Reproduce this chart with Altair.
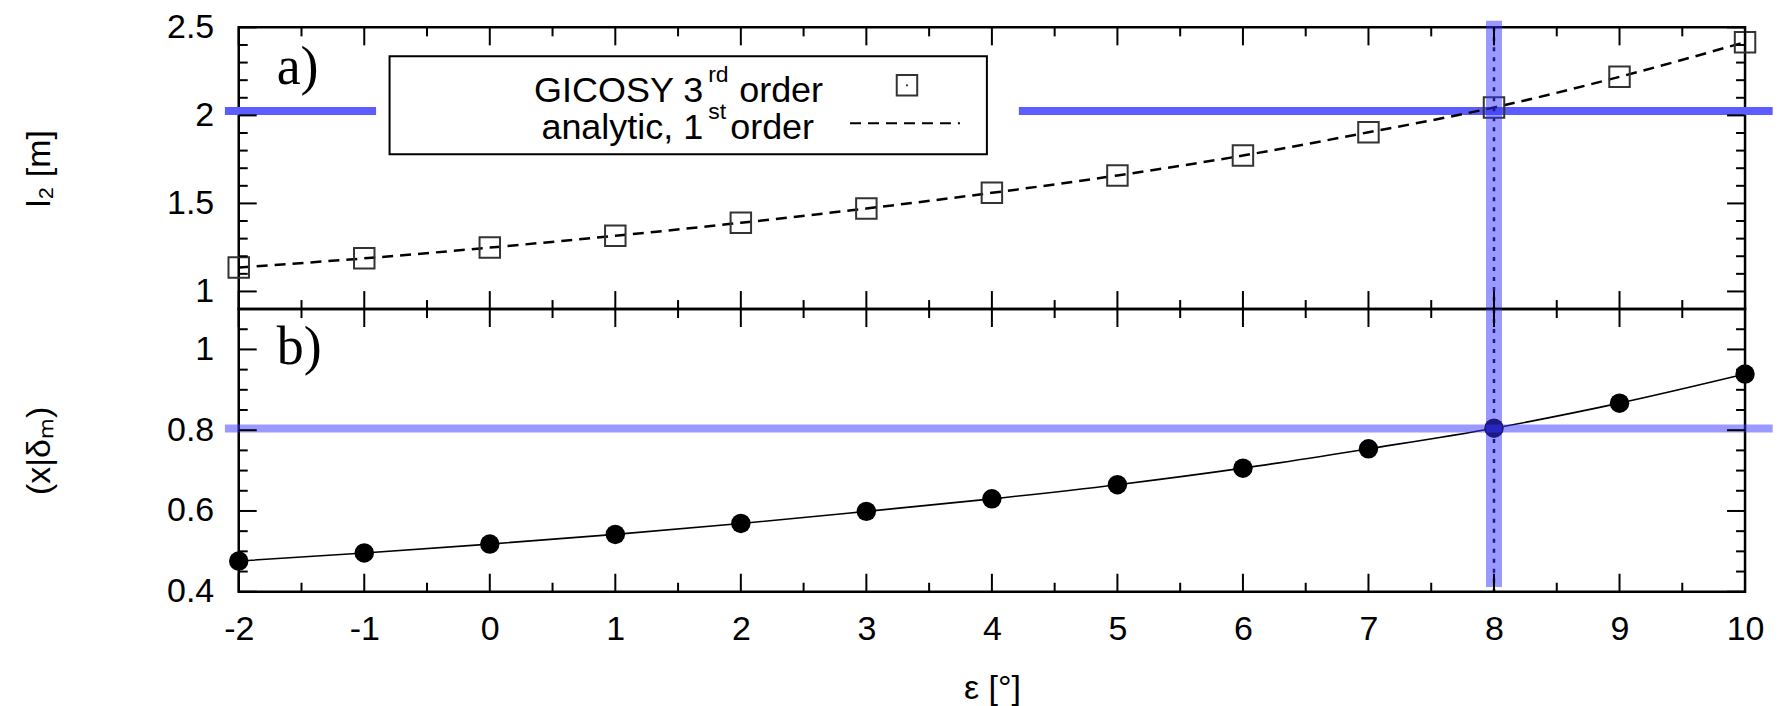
import altair as alt
import pandas as pd

# ---------------- data ----------------
eps = [-2, -1, 0, 1, 2, 3, 4, 5, 6, 7, 8, 9, 10]
l2_gicosy = [1.136, 1.188, 1.249, 1.316, 1.390, 1.471, 1.560, 1.659, 1.772, 1.904, 2.045, 2.219, 2.416]
l2_analytic = [1.136, 1.188, 1.249, 1.316, 1.390, 1.471, 1.560, 1.659, 1.772, 1.904, 2.045, 2.219, 2.416]
xdm_gicosy = [0.476, 0.496, 0.518, 0.542, 0.569, 0.599, 0.630, 0.665, 0.706, 0.754, 0.805, 0.867, 0.939]
xdm_analytic = [0.476, 0.496, 0.518, 0.542, 0.569, 0.599, 0.630, 0.665, 0.706, 0.754, 0.805, 0.867, 0.939]

x_major = [-2, -1, 0, 1, 2, 3, 4, 5, 6, 7, 8, 9, 10]
x_minor = [-1.5, -0.5, 0.5, 1.5, 2.5, 3.5, 4.5, 5.5, 6.5, 7.5, 8.5, 9.5]
top_y_major = [1, 1.5, 2, 2.5]
top_y_minor = [1.1, 1.2, 1.3, 1.4, 1.6, 1.7, 1.8, 1.9, 2.1, 2.2, 2.3, 2.4]
bot_y_major = [0.4, 0.6, 0.8, 1.0]
bot_y_minor = [0.45, 0.5, 0.55, 0.65, 0.7, 0.75, 0.85, 0.9, 0.95, 1.05]

eps_mark = 8
l2_mark = 2.025
xdm_mark = 0.804
top_band_x0 = [-2.11, 4.215]
top_band_x1 = [-0.906, 10.22]
bot_band_x0 = [-2.11]
bot_band_x1 = [10.22]
vband_top_y = [2.537, 0.9]
vband_bot_y = [1.1, 0.412]

X_DOM = [-2, 10]
TOP_DOM = [0.9, 2.5]
BOT_DOM = [0.4, 1.1]

# ---------------- layout / style ----------------
W = 1508
HT = 282
HB = 283
FONT = "Liberation Sans"
SERIF = "Liberation Serif"
BAND = "#3333ff"
BAND_TOP = "#5c5cff"
MAJ = 18
MIN = 9

xscale = alt.Scale(domain=X_DOM, nice=False, zero=False)

bottom_xaxis = alt.Axis(values=x_major, labelExpr="'' + datum.value", title="ε [°]",
                        ticks=False, domain=False, grid=False, labelPadding=21,
                        titlePadding=25, labelFlush=False, labelOverlap=False)


def yaxis(values, title, h):
    return alt.Axis(values=values, labelExpr="'' + datum.value", title=title,
                    titleX=-199, titleY=h / 2, titleAngle=270, titleAlign="center",
                    titleBaseline="middle", ticks=False, domain=False, grid=False,
                    labelPadding=25, labelFlush=False, labelOverlap=False)


def build_panel(ydom, h, y_major, y_minor, xaxis, ytitle):
    yscale = alt.Scale(domain=ydom, nice=False, zero=False)
    yax = yaxis(y_major, ytitle, h)

    def X(f):
        return alt.X(f, type="quantitative", scale=xscale, axis=xaxis)

    def Y(f):
        return alt.Y(f, type="quantitative", scale=yscale, axis=yax)

    layers = []
    # ticks (inward, mirrored)
    for vals, ln in ((x_major, MAJ), (x_minor, MIN)):
        d = pd.DataFrame({"x": vals})
        layers.append(alt.Chart(d).mark_rule(color="black", strokeWidth=2).encode(
            x=X("x"), y=alt.value(h), y2=alt.value(h - ln)))
        layers.append(alt.Chart(d).mark_rule(color="black", strokeWidth=2).encode(
            x=X("x"), y=alt.value(0), y2=alt.value(ln)))
    for vals, ln in ((y_major, MAJ), (y_minor, MIN)):
        d = pd.DataFrame({"y": vals})
        layers.append(alt.Chart(d).mark_rule(color="black", strokeWidth=2).encode(
            y=Y("y"), x=alt.value(0), x2=alt.value(ln)))
        layers.append(alt.Chart(d).mark_rule(color="black", strokeWidth=2).encode(
            y=Y("y"), x=alt.value(W), x2=alt.value(W - ln)))
    return X, Y, layers


# ---------------- top panel ----------------
X, Y, tick_layers = build_panel(TOP_DOM, HT, top_y_major, top_y_minor, None, "l₂ [m]")

top_df = pd.DataFrame({"x": eps, "y": l2_gicosy})
ana_df = pd.DataFrame({"x": eps, "y": l2_analytic})
tband_df = pd.DataFrame({"x0": top_band_x0, "x1": top_band_x1, "y": [l2_mark] * 2})
vdf_top = pd.DataFrame({"x": [eps_mark], "y0": [vband_top_y[0]], "y1": [vband_top_y[1]]})
vdot_top = pd.DataFrame({"x": [eps_mark], "y0": [TOP_DOM[1]], "y1": [TOP_DOM[0]]})
one = pd.DataFrame({"k": [0]})

LEG = 36
SUP = 23
DASH = [11, 7]

top_layers = [
    alt.Chart(tband_df).mark_rule(color=BAND_TOP, strokeWidth=8).encode(
        x=X("x0"), x2="x1", y=Y("y")),
    alt.Chart(vdot_top).mark_rule(color="black", strokeWidth=2.5, strokeDash=[4, 6]).encode(
        x=X("x"), y=Y("y0"), y2="y1"),
    alt.Chart(one).mark_rect(fill="white", stroke="black", strokeWidth=2).encode(
        x=alt.value(151), x2=alt.value(749), y=alt.value(29), y2=alt.value(127)),
    alt.Chart(ana_df).mark_line(color="black", strokeWidth=2.5, strokeDash=DASH,
                                interpolate="monotone").encode(x=X("x"), y=Y("y")),
    alt.Chart(top_df).mark_point(shape="square", size=420, filled=False, color="#333333",
                                 strokeWidth=2, opacity=1).encode(x=X("x"), y=Y("y")),
    alt.Chart(vdf_top).mark_rule(color=BAND, opacity=0.5, strokeWidth=16).encode(
        x=X("x"), y=Y("y0"), y2="y1"),
] + tick_layers + [
    # legend contents
    alt.Chart(one).mark_text(font=FONT, fontSize=LEG, align="right", baseline="alphabetic",
                             color="black").encode(
        x=alt.value(465), y=alt.value(75), text=alt.value("GICOSY 3")),
    alt.Chart(one).mark_text(font=FONT, fontSize=SUP, align="left", baseline="alphabetic",
                             color="black").encode(
        x=alt.value(470), y=alt.value(55), text=alt.value("rd")),
    alt.Chart(one).mark_text(font=FONT, fontSize=LEG, align="left", baseline="alphabetic",
                             color="black").encode(
        x=alt.value(501), y=alt.value(75), text=alt.value("order")),
    alt.Chart(one).mark_text(font=FONT, fontSize=LEG, align="right", baseline="alphabetic",
                             color="black").encode(
        x=alt.value(465), y=alt.value(112), text=alt.value("analytic, 1")),
    alt.Chart(one).mark_text(font=FONT, fontSize=SUP, align="left", baseline="alphabetic",
                             color="black").encode(
        x=alt.value(470), y=alt.value(92), text=alt.value("st")),
    alt.Chart(one).mark_text(font=FONT, fontSize=LEG, align="left", baseline="alphabetic",
                             color="black").encode(
        x=alt.value(492), y=alt.value(112), text=alt.value("order")),
    alt.Chart(one).mark_point(shape="square", size=420, filled=False, color="#333333",
                              strokeWidth=2, opacity=1).encode(
        x=alt.value(669), y=alt.value(58)),
    alt.Chart(one).mark_circle(size=5, color="#333333", opacity=1).encode(
        x=alt.value(669), y=alt.value(58)),
    alt.Chart(one).mark_rule(color="black", strokeWidth=2.2, strokeDash=DASH).encode(
        x=alt.value(612), x2=alt.value(722), y=alt.value(96)),
    alt.Chart(one).mark_text(font=SERIF, fontSize=54, align="left", baseline="alphabetic",
                             color="black").encode(
        x=alt.value(38), y=alt.value(57), text=alt.value("a)")),
]

top = alt.layer(*top_layers).properties(width=W, height=HT)

# ---------------- bottom panel ----------------
X, Y, tick_layers = build_panel(BOT_DOM, HB, bot_y_major, bot_y_minor, bottom_xaxis, "(x|δₘ)")

bot_df = pd.DataFrame({"x": eps, "y": xdm_gicosy})
bana_df = pd.DataFrame({"x": eps, "y": xdm_analytic})
bband_df = pd.DataFrame({"x0": bot_band_x0, "x1": bot_band_x1, "y": [xdm_mark]})
vdf_bot = pd.DataFrame({"x": [eps_mark], "y0": [vband_bot_y[0]], "y1": [vband_bot_y[1]]})
vdot_bot = pd.DataFrame({"x": [eps_mark], "y0": [BOT_DOM[1]], "y1": [BOT_DOM[0]]})

bot_layers = [
    alt.Chart(bana_df).mark_line(color="black", strokeWidth=1.6, interpolate="monotone").encode(
        x=X("x"), y=Y("y")),
    alt.Chart(bot_df).mark_circle(size=380, color="black", opacity=1).encode(
        x=X("x"), y=Y("y")),
    alt.Chart(vdot_bot).mark_rule(color="black", strokeWidth=2.5, strokeDash=[4, 6]).encode(
        x=X("x"), y=Y("y0"), y2="y1"),
    alt.Chart(bband_df).mark_rule(color=BAND, opacity=0.5, strokeWidth=8).encode(
        x=X("x0"), x2="x1", y=Y("y")),
    alt.Chart(vdf_bot).mark_rule(color=BAND, opacity=0.5, strokeWidth=16).encode(
        x=X("x"), y=Y("y0"), y2="y1"),
] + tick_layers + [
    alt.Chart(one).mark_text(font=SERIF, fontSize=54, align="left", baseline="alphabetic",
                             color="black").encode(
        x=alt.value(38), y=alt.value(55), text=alt.value("b)")),
]

bottom = alt.layer(*bot_layers).properties(width=W, height=HB)

chart = alt.vconcat(top, bottom, spacing=0, bounds="flush").configure(
    padding={"left": 21, "top": 8, "right": 5, "bottom": 0},
    background="white",
).configure_view(
    stroke="black", strokeWidth=2.5
).configure_axis(
    labelFont=FONT, labelFontSize=34, labelColor="black",
    titleFont=FONT, titleFontSize=34, titleFontWeight="normal", titleColor="black",
)

chart.save("out.html", embed_options={"renderer": "svg", "actions": False})
